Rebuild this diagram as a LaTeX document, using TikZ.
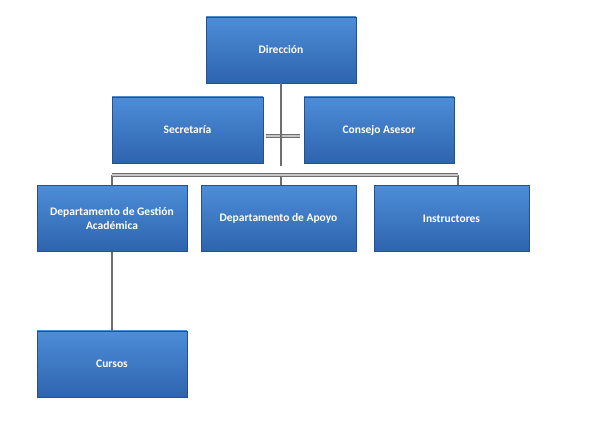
\documentclass[tikz,border=0pt]{standalone}
\usepackage{fontspec}
\setmainfont{Carlito}
\usetikzlibrary{shadows}
\definecolor{boxtop}{HTML}{4D8DD8}
\definecolor{boxbot}{HTML}{2E64AE}
\definecolor{linec}{HTML}{6E6E6E}
\tikzset{
  orgbox/.style={draw=boxbot!80!black, line width=0.6pt, top color=boxtop, bottom color=boxbot,
    minimum width=150pt, minimum height=66pt, text=white, font=\bfseries\fontsize{11.5}{14}\selectfont,
    align=center, inner sep=2pt, drop shadow={shadow xshift=1pt, shadow yshift=-1pt, opacity=0.35}},
  conn/.style={draw=linec, line width=2pt},
  barline/.style={draw=linec, line width=1.1pt, double=gray!45, double distance=1.6pt}
}
\begin{document}
\begin{tikzpicture}[x=1pt,y=-1pt]
\useasboundingbox (0,0) rectangle (600,438);
\fill[white] (0,0) rectangle (600,438);
\node[orgbox] (dir) at (281,50) {Dirección};
\node[orgbox, minimum width=151pt] (sec) at (187.5,130) {Secretaría};
\node[orgbox] (cons) at (379,130) {Consejo Asesor};
\node[orgbox] (dga) at (112,218.5) {Departamento de Gestión\\Académica};
\node[orgbox, minimum width=155pt] (dap) at (278.5,218.5) {Departamento de Apoyo};
\node[orgbox, minimum width=155pt] (ins) at (451.5,218.5) {Instructores};
\node[orgbox] (cur) at (112,364) {Cursos};
\coordinate (bar) at (281,175);
\coordinate (bl) at (112,175);
\coordinate (br) at (458,175);
\coordinate (sl) at (266,136);
\coordinate (sr) at (300,136);
\coordinate (vend) at (281,166);
\draw[barline] (sl) -- (sr);
\draw[conn] (dir.south) -- (vend);
\draw[conn] (bl) -- (dga.north -| bl);
\draw[conn] (bar) -- (dap.north -| bar);
\draw[conn] (br) -- (ins.north -| br);
\draw[barline] (bl) -- (br);
\draw[conn] (dga.south) -- (cur.north);
\end{tikzpicture}
\end{document}
